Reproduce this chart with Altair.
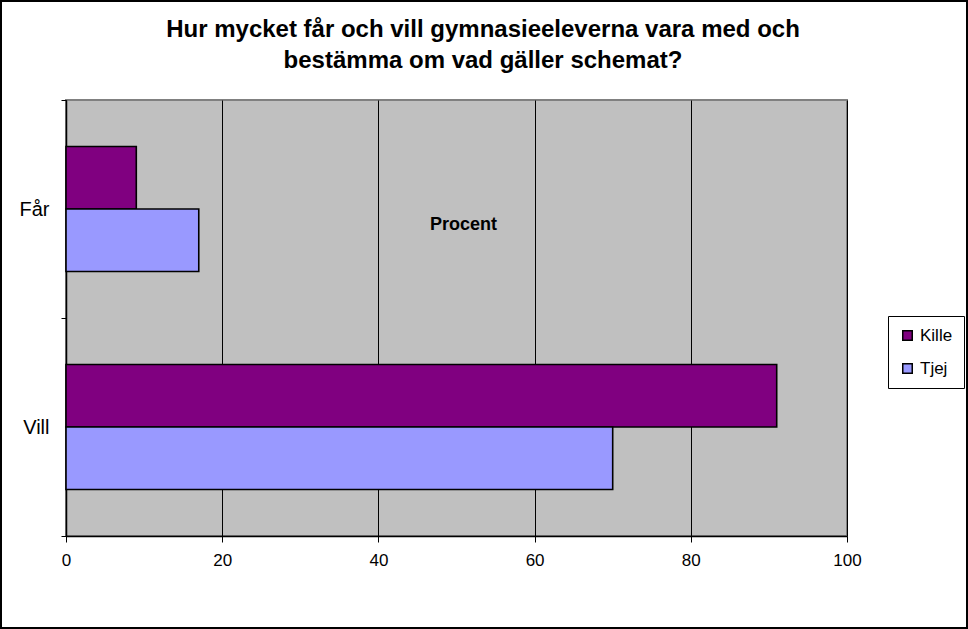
import altair as alt
import pandas as pd

categories = ["Får", "Vill"]
series = ["Kille", "Tjej"]
kille = [9, 91]
tjej = [17, 70]
x_ticks = [0, 20, 40, 60, 80, 100]
colors = ["#800080", "#9999FF"]
title_lines = ["Hur mycket får och vill gymnasieeleverna vara med och",
               "bestämma om vad gäller schemat?"]

rows = []
for i, c in enumerate(categories):
    rows.append({"kategori": c, "grupp": series[0], "procent": kille[i]})
    rows.append({"kategori": c, "grupp": series[1], "procent": tjej[i]})
df = pd.DataFrame(rows)

FONT = "Liberation Sans"

bars = alt.Chart(df).mark_bar(stroke="black", strokeWidth=1.6).encode(
    x=alt.X("procent:Q",
            scale=alt.Scale(domain=[0, 100], nice=False),
            axis=alt.Axis(values=x_ticks, title="Procent", grid=True,
                          gridColor="black", gridWidth=1, gridOpacity=1,
                          domainColor="black", domainWidth=1.5,
                          tickColor="black", tickSize=6, tickWidth=1,
                          labelFont=FONT, labelFontSize=17, labelColor="black",
                          labelPadding=10, labelFlush=False,
                          titleFont=FONT, titleFontSize=18, titleFontWeight="bold",
                          titleColor="black", titleX=397, titleY=-312,
                          titleAlign="center", titleBaseline="middle")),
    y=alt.Y("kategori:N", sort=categories,
            scale=alt.Scale(paddingInner=0, paddingOuter=0),
            axis=alt.Axis(title=None, tickBand="extent", domainColor="black",
                          domainWidth=1.5, tickColor="black", tickSize=5,
                          labelFont=FONT, labelFontSize=20, labelColor="black",
                          labelPadding=12)),
    yOffset=alt.YOffset("grupp:N", sort=series,
                        scale=alt.Scale(paddingInner=0, paddingOuter=0.744)),
    color=alt.Color("grupp:N",
                    scale=alt.Scale(domain=series, range=colors),
                    legend=alt.Legend(title=None, orient="none",
                                      legendX=822, legendY=216,
                                      symbolType="square", symbolSize=90,
                                      symbolStrokeColor="black",
                                      symbolStrokeWidth=1.5,
                                      labelFont=FONT, labelFontSize=17,
                                      labelColor="black", rowPadding=15,
                                      padding=11, strokeColor="black",
                                      fillColor="white")),
)

title_df = pd.DataFrame({"line": title_lines, "row": [0, 1]})
title = alt.Chart(title_df).mark_text(
    font=FONT, fontSize=24, fontWeight="bold", color="black",
    align="center", baseline="middle", clip=False
).encode(
    text="line:N",
    x=alt.value(417),
    y=alt.Y("row:Q", scale=alt.Scale(domain=[0, 1], range=[-70, -39]), axis=None),
)

border = alt.Chart(alt.Data(values=[{}])).mark_rect(
    fill=None, stroke="black", strokeWidth=2, clip=False
).encode(
    x=alt.value(-65), x2=alt.value(901),
    y=alt.value(-99), y2=alt.value(528),
)

chart = alt.layer(bars, title, border).resolve_scale(y="independent").properties(
    width=781, height=436,
    padding={"left": 66, "top": 100, "right": 121, "bottom": 93},
    autosize=alt.AutoSizeParams(type="none"),
    background="white",
).configure_view(
    fill="#C0C0C0", stroke="#808080", strokeWidth=2
)

chart.save("out.html", embed_options={"renderer": "svg", "actions": False})
